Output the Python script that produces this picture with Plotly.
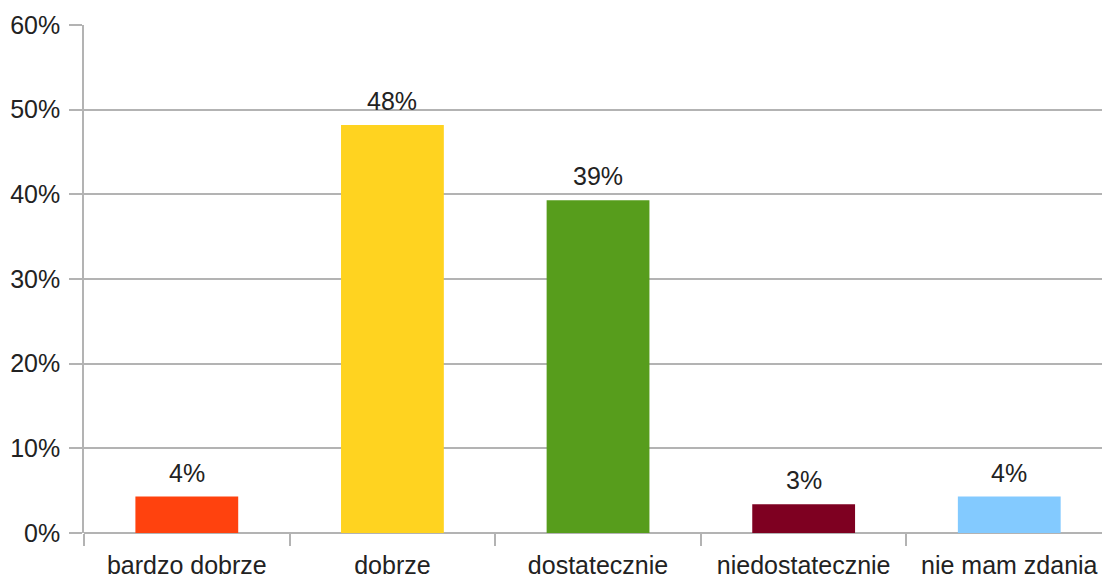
import plotly.graph_objects as go

categories = ["bardzo dobrze", "dobrze", "dostatecznie", "niedostatecznie", "nie mam zdania"]
values = [4.3, 48.2, 39.3, 3.4, 4.3]
labels = ["4%", "48%", "39%", "3%", "4%"]
colors = ["#FF420E", "#FFD320", "#579D1C", "#7E0021", "#83CAFF"]
y_ticks = [0, 10, 20, 30, 40, 50, 60]
y_tick_text = ["0%", "10%", "20%", "30%", "40%", "50%", "60%"]

font = "Liberation Sans, Arial, sans-serif"
grid = "#b3b3b3"
txt = "#222"
fs = 25

fig = go.Figure()
fig.add_trace(go.Bar(
    x=categories, y=values, marker=dict(color=colors, line=dict(width=0)),
    width=0.5, hoverinfo="x+y",
))
for c, v, t in zip(categories, values, labels):
    fig.add_annotation(x=c, y=v, text=t, showarrow=False, yanchor="bottom",
                       yshift=8, font=dict(family=font, size=fs, color=txt))

fig.update_layout(
    width=1102, height=578,
    margin=dict(l=84, r=0, t=25, b=45),
    paper_bgcolor="white", plot_bgcolor="white",
    showlegend=False,
    bargap=0.5,
    font=dict(family=font, size=fs, color=txt),
    xaxis=dict(
        range=[-0.5, 4.451], tickson="boundaries", ticks="outside", ticklen=12,
        tickcolor=grid, tickwidth=1.5, showgrid=False, showline=False,
        ticklabelstandoff=15,
        tickfont=dict(family=font, size=fs, color=txt), fixedrange=True,
    ),
    yaxis=dict(
        range=[0, 60], tickvals=y_ticks, ticktext=y_tick_text,
        ticks="outside", ticklen=13, tickcolor=grid, tickwidth=1.5,
        ticklabelstandoff=4,
        showgrid=True, gridcolor=grid, gridwidth=1.5,
        showline=True, linecolor=grid, linewidth=1.5,
        zeroline=True, zerolinecolor=grid, zerolinewidth=1.5,
        tickfont=dict(family=font, size=fs, color=txt), fixedrange=True,
    ),
)

fig.write_html(
    "out.html",
    config={"displayModeBar": False},
    post_script="document.body.style.margin='0';document.body.style.overflow='hidden';",
)
